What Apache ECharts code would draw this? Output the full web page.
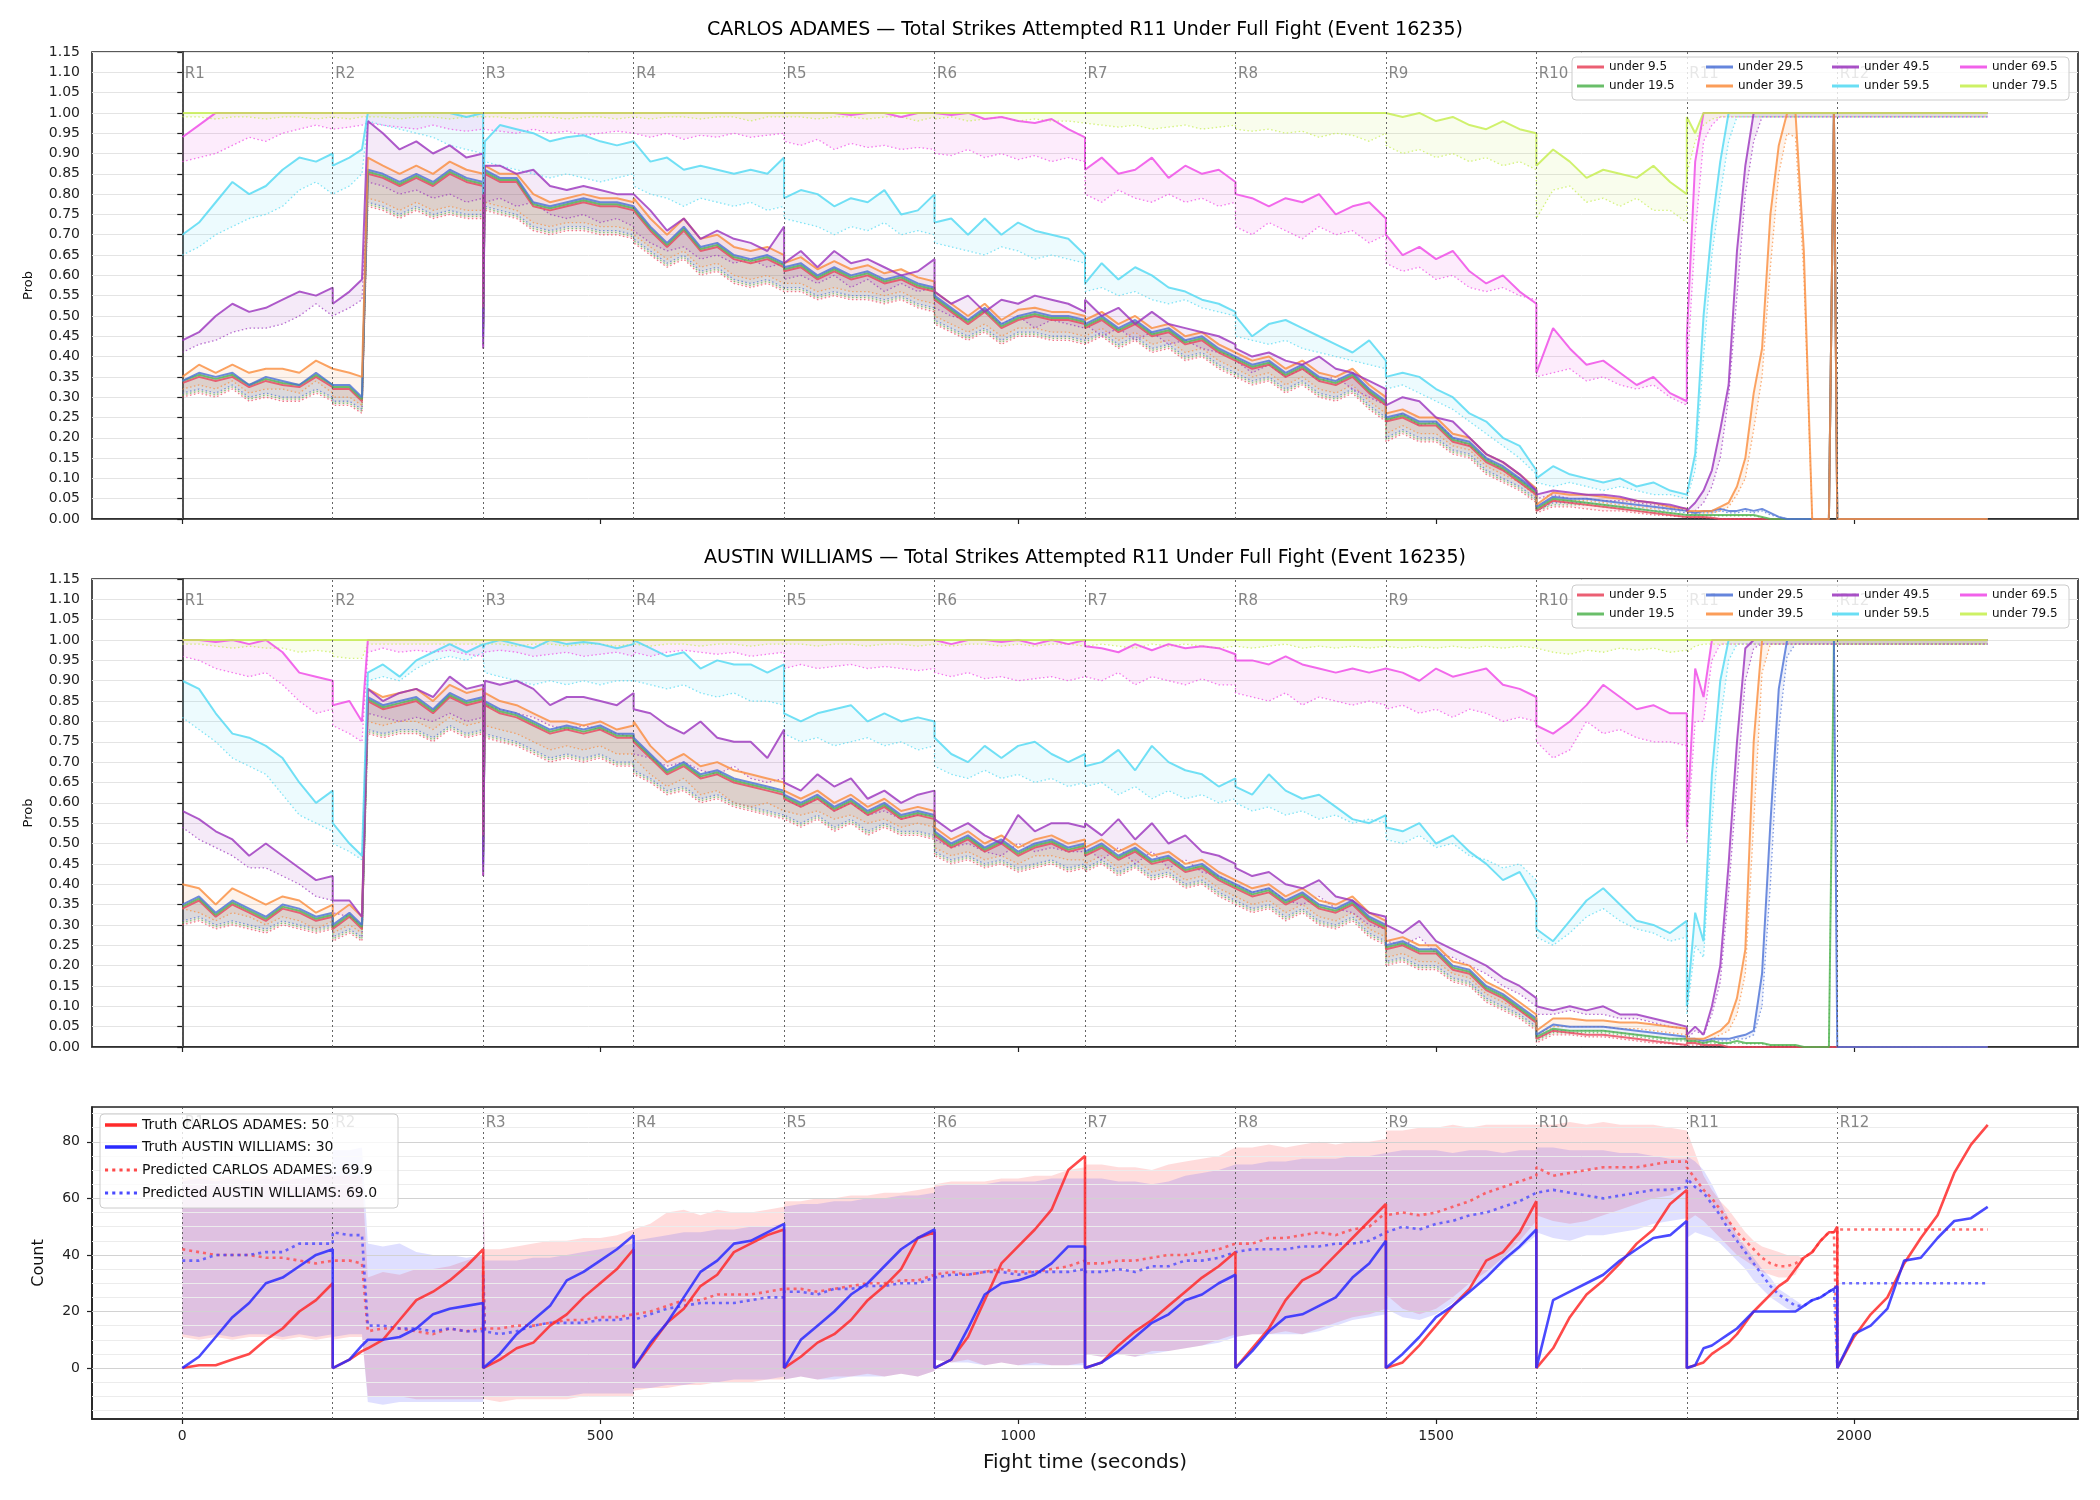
<!DOCTYPE html>
<html>
<head>
<meta charset="utf-8">
<script src="https://cdn.jsdelivr.net/npm/echarts@6/dist/echarts.min.js"></script>
<style>
  html, body { margin: 0; padding: 0; background: #fff; }
  #chart { width: 2100px; height: 1500px; }
</style>
</head>
<body>
<div id="chart"></div>
<script>
// sample times in seconds; round boundaries are listed twice so the resets are vertical
const T = [
  0,20,40,60,80,100,120,140,160,180,
  180,200,215,222,240,260,280,300,320,340,360,
  360,362,380,400,420,440,460,480,500,520,540,
  540,560,580,600,620,640,660,680,700,720,
  720,740,760,780,800,820,840,860,880,900,
  900,920,940,960,980,1000,1020,1040,1060,1080,
  1080,1100,1120,1140,1160,1180,1200,1220,1240,1260,
  1260,1280,1300,1320,1340,1360,1380,1400,1420,1440,
  1440,1460,1480,1500,1520,1540,1560,1580,1600,1620,
  1620,1640,1660,1680,1700,1720,1740,1760,1780,1800,
  1800,1810,1820,1830,1840,1850,1860,1870,1880,1890,1900,1910,1920,1930,1940,1950,1960,1970,1976,1980,
  1980,2000,2020,2040,2060,2080,2100,2120,2140,2160
];
const roundStarts = [0,180,360,540,720,900,1080,1260,1440,1620,1800,1980];
const roundNames = ['R1','R2','R3','R4','R5','R6','R7','R8','R9','R10','R11','R12'];
const thresholds = ['under 9.5','under 19.5','under 29.5','under 39.5','under 49.5','under 59.5','under 69.5','under 79.5'];
const lineColors = ['#e8435b','#4fb34f','#4a70d6','#fa8c3c','#9a32bd','#4fd8f2','#ef45e6','#c4ee4a'];

// ---------- CARLOS ADAMES: actual (solid) and predicted (dotted) ----------
const caU9 = [
  .335,.35,.34,.35,.325,.34,.33,.325,.35,.325,
  .32,.32,.29,.85,.84,.82,.84,.82,.85,.83,.82,
  .48,.85,.83,.83,.77,.76,.77,.78,.77,.77,.76,
  .76,.71,.67,.71,.66,.67,.64,.63,.64,.62,
  .61,.62,.59,.61,.59,.60,.58,.59,.57,.56,
  .54,.51,.48,.51,.47,.49,.50,.49,.49,.48,
  .47,.49,.46,.48,.45,.46,.43,.44,.41,.39,
  .39,.37,.38,.35,.37,.34,.33,.35,.31,.28,
  .24,.25,.23,.23,.19,.18,.14,.12,.09,.06,
  .02,.045,.04,.035,.03,.025,.02,.015,.01,.005,
  .005,.005,.005,.003,0,0,0,0,0,0,0,0,0,0,0,0,0,0,1,0,
  0,0,0,0,0,0,0,0,0,0];
const caU9p = [
  .30,.31,.30,.32,.29,.30,.29,.29,.31,.29,
  .28,.28,.26,.77,.76,.74,.76,.74,.75,.74,.74,
  .42,.76,.75,.74,.71,.70,.71,.71,.70,.70,.69,
  .68,.65,.62,.64,.60,.61,.58,.57,.58,.56,
  .56,.56,.54,.55,.54,.54,.53,.54,.52,.51,
  .48,.46,.44,.46,.43,.45,.45,.44,.44,.43,
  .43,.45,.42,.44,.41,.42,.39,.40,.37,.35,
  .35,.33,.34,.31,.33,.30,.29,.31,.27,.24,
  .19,.21,.19,.19,.16,.15,.11,.09,.07,.04,
  .015,.03,.03,.025,.02,.02,.015,.01,.008,.004,
  .003,.003,.003,.002,0,0,0,0,0,0,0,0,0,0,0,0,0,0,1,0,
  0,0,0,0,0,0,0,0,0,0];
const caU19 = [
  .34,.355,.345,.355,.33,.345,.335,.33,.355,.33,
  .325,.325,.295,.855,.845,.825,.845,.825,.855,.835,.825,
  .47,.855,.835,.835,.775,.765,.775,.785,.775,.775,.765,
  .765,.715,.675,.715,.665,.675,.645,.635,.645,.625,
  .615,.625,.595,.615,.595,.605,.585,.595,.575,.565,
  .545,.515,.485,.515,.475,.495,.505,.495,.495,.485,
  .475,.495,.465,.485,.455,.465,.435,.445,.415,.395,
  .395,.375,.385,.355,.375,.345,.335,.355,.315,.285,
  .245,.255,.235,.235,.195,.185,.145,.125,.095,.065,
  .025,.05,.045,.04,.035,.03,.025,.02,.015,.01,
  .01,.01,.01,.01,.01,.01,.01,.01,.01,.005,0,0,0,0,0,0,0,0,1,0,
  0,0,0,0,0,0,0,0,0,0];
const caU19p = [
  .305,.315,.305,.325,.295,.305,.295,.295,.315,.295,
  .285,.285,.265,.775,.765,.745,.765,.745,.755,.745,.745,
  .43,.765,.755,.745,.715,.705,.715,.715,.705,.705,.695,
  .685,.655,.625,.645,.605,.615,.585,.575,.585,.565,
  .565,.565,.545,.555,.545,.545,.535,.545,.525,.515,
  .485,.465,.445,.465,.435,.455,.455,.445,.445,.435,
  .435,.455,.425,.445,.415,.425,.395,.405,.375,.355,
  .355,.335,.345,.315,.335,.305,.295,.315,.275,.245,
  .195,.215,.195,.195,.165,.155,.115,.095,.075,.045,
  .02,.035,.035,.035,.03,.025,.02,.015,.015,.01,
  .008,.008,.008,.008,.008,.008,.008,.008,.008,.004,0,0,0,0,0,0,0,0,1,0,
  0,0,0,0,0,0,0,0,0,0];
const caU29 = [
  .34,.36,.35,.36,.33,.35,.34,.33,.36,.33,
  .33,.33,.30,.86,.85,.83,.85,.83,.86,.84,.83,
  .45,.86,.84,.84,.78,.77,.78,.79,.78,.78,.77,
  .77,.72,.68,.72,.67,.68,.65,.64,.65,.63,
  .62,.63,.60,.62,.60,.61,.59,.60,.58,.57,
  .55,.52,.49,.52,.48,.50,.51,.50,.50,.49,
  .48,.50,.47,.49,.46,.47,.44,.45,.42,.40,
  .40,.38,.39,.36,.38,.35,.34,.36,.32,.29,
  .25,.26,.24,.24,.20,.19,.15,.13,.10,.07,
  .03,.055,.05,.05,.045,.04,.035,.03,.025,.02,
  .02,.015,.02,.02,.025,.02,.02,.025,.02,.025,.015,.005,0,0,0,0,0,0,1,0,
  0,0,0,0,0,0,0,0,0,0];
const caU29p = [
  .31,.32,.31,.33,.30,.31,.30,.30,.32,.30,
  .29,.29,.27,.78,.77,.75,.77,.75,.76,.75,.75,
  .43,.77,.76,.75,.72,.71,.72,.72,.71,.71,.70,
  .69,.66,.63,.65,.61,.62,.59,.58,.59,.57,
  .57,.57,.55,.56,.55,.55,.54,.55,.53,.52,
  .49,.47,.45,.47,.44,.46,.46,.45,.45,.44,
  .44,.46,.43,.45,.42,.43,.40,.41,.38,.36,
  .36,.34,.35,.32,.34,.31,.30,.32,.28,.25,
  .20,.22,.20,.20,.17,.16,.12,.10,.08,.05,
  .02,.04,.04,.04,.035,.03,.025,.02,.02,.015,
  .015,.01,.015,.015,.02,.015,.015,.02,.015,.02,.01,.005,0,0,0,0,0,0,1,0,
  0,0,0,0,0,0,0,0,0,0];
const caU39 = [
  .35,.38,.36,.38,.36,.37,.37,.36,.39,.37,
  .37,.36,.35,.89,.87,.85,.87,.85,.88,.86,.85,
  .52,.87,.85,.85,.80,.78,.79,.80,.79,.79,.78,
  .79,.74,.70,.74,.69,.70,.67,.66,.67,.65,
  .63,.645,.615,.635,.615,.625,.605,.615,.595,.585,
  .56,.53,.50,.53,.49,.515,.52,.51,.51,.50,
  .49,.51,.48,.50,.47,.48,.45,.46,.43,.41,
  .41,.39,.40,.37,.39,.36,.35,.37,.33,.30,
  .26,.27,.25,.25,.21,.20,.16,.14,.11,.075,
  .035,.065,.06,.06,.055,.05,.045,.04,.03,.025,
  .02,.02,.02,.02,.03,.04,.08,.15,.31,.42,.75,.92,1,1,.66,0,0,0,1,0,
  0,0,0,0,0,0,0,0,0,0];
const caU39p = [
  .32,.33,.32,.34,.31,.32,.32,.31,.34,.31,
  .30,.30,.28,.79,.78,.76,.78,.76,.77,.76,.76,
  .47,.78,.77,.76,.73,.72,.73,.73,.72,.72,.71,
  .70,.67,.64,.66,.62,.63,.60,.59,.60,.58,
  .58,.58,.56,.57,.56,.56,.55,.56,.54,.53,
  .50,.48,.46,.48,.45,.47,.47,.46,.46,.45,
  .45,.47,.44,.46,.43,.44,.41,.42,.39,.37,
  .37,.35,.36,.33,.35,.32,.31,.33,.29,.26,
  .21,.23,.21,.21,.18,.17,.13,.11,.09,.055,
  .025,.045,.045,.045,.04,.035,.03,.025,.025,.02,
  .015,.015,.015,.015,.02,.03,.06,.10,.22,.35,.62,.85,.95,.94,.60,0,0,0,1,0,
  0,0,0,0,0,0,0,0,0,0];
const caU49 = [
  .44,.46,.50,.53,.51,.52,.54,.56,.55,.57,
  .53,.56,.59,.98,.95,.91,.93,.90,.92,.89,.90,
  .42,.87,.87,.85,.86,.82,.81,.82,.81,.80,.80,
  .80,.76,.71,.74,.69,.71,.69,.68,.66,.72,
  .63,.66,.62,.66,.63,.64,.62,.60,.61,.64,
  .56,.53,.55,.51,.54,.53,.55,.54,.53,.51,
  .54,.50,.52,.48,.51,.48,.47,.46,.45,.43,
  .42,.40,.41,.39,.38,.40,.37,.36,.34,.32,
  .28,.30,.29,.25,.24,.20,.16,.14,.11,.07,
  .06,.07,.065,.06,.06,.055,.045,.04,.035,.025,
  .02,.04,.07,.12,.22,.33,.66,.87,1,1,1,1,1,1,1,1,1,1,1,1,
  1,1,1,1,1,1,1,1,1,1];
const caU49p = [
  .41,.43,.44,.46,.47,.47,.48,.50,.53,.50,
  .50,.52,.54,.83,.82,.80,.81,.79,.80,.78,.79,
  .45,.78,.79,.77,.78,.75,.74,.75,.73,.74,.72,
  .71,.68,.66,.67,.64,.65,.63,.64,.62,.63,
  .59,.60,.58,.60,.57,.59,.56,.58,.56,.57,
  .52,.50,.49,.51,.48,.50,.47,.49,.48,.47,
  .48,.45,.47,.44,.46,.43,.44,.42,.41,.40,
  .39,.36,.38,.35,.37,.34,.35,.32,.30,.28,
  .24,.26,.23,.24,.20,.18,.15,.12,.10,.06,
  .05,.06,.05,.05,.045,.045,.04,.035,.03,.02,
  .015,.02,.04,.08,.15,.30,.55,.80,.93,.99,.99,.99,.99,.99,.99,.99,.99,.99,.99,.99,
  .99,.99,.99,.99,.99,.99,.99,.99,.99,.99];
const caU59 = [
  .70,.73,.78,.83,.80,.82,.86,.89,.88,.90,
  .87,.89,.91,1,1,1,1,1,1,.99,1,
  .80,.93,.97,.96,.95,.93,.94,.945,.93,.92,.93,
  .93,.88,.89,.86,.87,.86,.85,.86,.85,.89,
  .79,.81,.80,.77,.79,.78,.81,.75,.76,.80,
  .73,.74,.70,.74,.70,.73,.71,.70,.69,.65,
  .58,.63,.59,.62,.60,.57,.56,.54,.53,.51,
  .50,.45,.48,.49,.47,.45,.43,.41,.44,.39,
  .35,.36,.35,.32,.30,.26,.24,.20,.18,.12,
  .10,.13,.11,.10,.09,.10,.08,.09,.07,.06,
  .06,.16,.50,.72,.88,1,1,1,1,1,1,1,1,1,1,1,1,1,1,1,
  1,1,1,1,1,1,1,1,1,1];
const caU59p = [
  .65,.67,.70,.72,.74,.75,.77,.81,.83,.80,
  .80,.82,.85,.98,.97,.96,.95,.94,.92,.91,.90,
  .78,.88,.87,.86,.85,.84,.85,.84,.83,.84,.85,
  .82,.80,.79,.77,.79,.78,.77,.78,.76,.77,
  .74,.73,.72,.70,.72,.71,.73,.70,.71,.70,
  .68,.67,.66,.65,.67,.66,.64,.65,.64,.63,
  .56,.57,.55,.56,.54,.53,.54,.52,.51,.50,
  .45,.44,.43,.44,.42,.41,.40,.39,.38,.37,
  .32,.33,.31,.29,.27,.24,.21,.18,.15,.11,
  .09,.08,.09,.08,.07,.08,.07,.06,.06,.05,
  .05,.12,.40,.65,.80,.93,.99,.99,.99,.99,.99,.99,.99,.99,.99,.99,.99,.99,.99,.99,
  .99,.99,.99,.99,.99,.99,.99,.99,.99,.99];
const caU69 = [
  .94,.97,1,1,1,1,1,1,1,1,
  1,1,1,1,1,1,1,1,1,1,1,
  1,1,1,1,1,1,1,1,1,1,1,
  1,1,1,1,1,1,1,1,1,1,
  1,1,1,1,.995,1,1,.99,1,1,
  1,.995,1,.985,.99,.98,.975,.985,.96,.94,
  .86,.89,.85,.86,.89,.84,.87,.85,.86,.83,
  .80,.79,.77,.79,.78,.80,.75,.77,.78,.74,
  .70,.65,.67,.64,.66,.61,.58,.60,.56,.53,
  .36,.47,.42,.38,.39,.36,.33,.35,.31,.29,
  .45,.88,1,1,1,1,1,1,1,1,1,1,1,1,1,1,1,1,1,1,
  1,1,1,1,1,1,1,1,1,1];
const caU69p = [
  .88,.89,.90,.92,.94,.93,.95,.96,.97,.96,
  .96,.965,.97,.975,.97,.965,.96,.97,.96,.955,.96,
  .96,.96,.955,.95,.96,.95,.955,.945,.95,.955,.95,
  .95,.94,.95,.935,.945,.94,.95,.94,.945,.95,
  .93,.92,.935,.91,.925,.915,.92,.91,.915,.91,
  .90,.895,.91,.89,.90,.885,.895,.88,.89,.88,
  .80,.78,.81,.79,.78,.80,.78,.79,.77,.78,
  .72,.70,.73,.71,.69,.72,.70,.71,.68,.70,
  .63,.61,.62,.59,.60,.57,.56,.57,.55,.54,
  .35,.36,.37,.34,.35,.33,.32,.33,.30,.28,
  .35,.70,.93,.97,.99,.99,.99,.99,.99,.99,.99,.99,.99,.99,.99,.99,.99,.99,.99,.99,
  .99,.99,.99,.99,.99,.99,.99,.99,.99,.99];
const caU79 = [
  1,1,1,1,1,1,1,1,1,1,
  1,1,1,1,1,1,1,1,1,1,1,
  1,1,1,1,1,1,1,1,1,1,1,
  1,1,1,1,1,1,1,1,1,1,
  1,1,1,1,1,1,1,1,1,1,
  1,1,1,1,1,1,1,1,1,1,
  1,1,1,1,1,1,1,1,1,1,
  1,1,1,1,1,1,1,1,1,1,
  1,.99,1,.98,.99,.97,.96,.98,.96,.95,
  .87,.91,.88,.84,.86,.85,.84,.87,.83,.80,
  .99,.95,1,1,1,1,1,1,1,1,1,1,1,1,1,1,1,1,1,1,
  1,1,1,1,1,1,1,1,1,1];
const caU79p = [
  .99,.99,.985,.99,.99,.985,.99,.99,.985,.99,
  .99,.985,.99,.99,.99,.985,.99,.99,.985,.99,.99,
  .99,.99,.99,.985,.99,.99,.985,.99,.99,.985,.99,
  .99,.985,.99,.99,.985,.99,.99,.98,.99,.99,
  .99,.99,.985,.99,.99,.985,.99,.99,.98,.99,
  .985,.99,.98,.985,.99,.98,.985,.98,.98,.975,
  .975,.97,.965,.97,.96,.965,.97,.96,.965,.97,
  .96,.955,.96,.95,.955,.94,.95,.945,.93,.95,
  .92,.90,.91,.89,.90,.88,.89,.87,.88,.86,
  .74,.81,.82,.78,.79,.77,.79,.76,.76,.73,
  .85,.93,.97,.985,.99,.99,.99,.99,.99,.99,.99,.99,.99,.99,.99,.99,.99,.99,.99,.99,
  .99,.99,.99,.99,.99,.99,.99,.99,.99,.99];

// ---------- AUSTIN WILLIAMS: actual (solid) and predicted (dotted) ----------
const awU9 = [
  .34,.36,.32,.35,.33,.31,.34,.33,.31,.32,
  .29,.32,.29,.85,.83,.84,.85,.82,.86,.84,.85,
  .48,.84,.82,.81,.79,.77,.78,.77,.78,.76,.76,
  .75,.71,.67,.69,.66,.67,.65,.64,.63,.62,
  .61,.59,.61,.58,.60,.57,.59,.56,.57,.56,
  .52,.49,.51,.48,.50,.47,.49,.50,.48,.49,
  .47,.49,.46,.48,.45,.46,.43,.44,.41,.39,
  .39,.37,.38,.35,.37,.34,.33,.35,.31,.29,
  .24,.25,.23,.23,.19,.18,.14,.12,.09,.06,
  .02,.04,.035,.03,.03,.025,.02,.015,.01,.005,
  .01,.01,.005,.005,.005,0,0,0,0,0,0,0,0,0,0,0,0,0,0,0,
  0,0,0,0,0,0,0,0,0,0];
const awU9p = [
  .30,.31,.29,.30,.29,.28,.30,.29,.28,.29,
  .26,.28,.26,.77,.76,.77,.77,.75,.78,.76,.77,
  .42,.76,.75,.74,.72,.70,.71,.70,.71,.69,.69,
  .67,.65,.62,.63,.60,.61,.59,.58,.57,.56,
  .56,.54,.56,.53,.55,.52,.54,.52,.52,.51,
  .47,.45,.46,.44,.45,.43,.44,.45,.43,.44,
  .43,.45,.42,.44,.41,.42,.39,.40,.37,.35,
  .35,.33,.34,.31,.33,.30,.29,.31,.27,.25,
  .20,.21,.19,.19,.16,.15,.11,.09,.07,.04,
  .01,.03,.03,.025,.025,.02,.015,.01,.008,.004,
  .005,.005,.003,.003,.003,0,0,0,0,0,0,0,0,0,0,0,0,0,0,0,
  0,0,0,0,0,0,0,0,0,0];
const awU19 = [
  .345,.365,.325,.355,.335,.315,.345,.335,.315,.325,
  .295,.325,.295,.855,.835,.845,.855,.825,.865,.845,.855,
  .47,.845,.825,.815,.795,.775,.785,.775,.785,.765,.765,
  .755,.715,.675,.695,.665,.675,.655,.645,.635,.625,
  .615,.595,.615,.585,.605,.575,.595,.565,.575,.565,
  .525,.495,.515,.485,.505,.475,.495,.505,.485,.495,
  .475,.495,.465,.485,.455,.465,.435,.445,.415,.395,
  .395,.375,.385,.355,.375,.345,.335,.355,.315,.295,
  .245,.255,.235,.235,.195,.185,.145,.125,.095,.065,
  .025,.045,.04,.04,.04,.035,.03,.025,.02,.02,
  .015,.015,.01,.015,.01,.01,.015,.01,.01,.01,.005,.005,.005,.005,0,0,0,0,1,1,
  1,1,1,1,1,1,1,1,1,1];
const awU19p = [
  .305,.315,.295,.305,.295,.285,.305,.295,.285,.295,
  .265,.285,.265,.775,.765,.775,.775,.755,.785,.765,.775,
  .43,.765,.755,.745,.725,.705,.715,.705,.715,.695,.695,
  .675,.655,.625,.635,.605,.615,.595,.585,.575,.565,
  .565,.545,.565,.535,.555,.525,.545,.525,.525,.515,
  .475,.455,.465,.445,.455,.435,.445,.455,.435,.445,
  .435,.455,.425,.445,.415,.425,.395,.405,.375,.355,
  .355,.335,.345,.315,.335,.305,.295,.315,.275,.255,
  .205,.215,.195,.195,.165,.155,.115,.095,.075,.045,
  .015,.035,.035,.035,.035,.03,.025,.02,.015,.015,
  .01,.01,.008,.01,.008,.008,.01,.008,.008,.008,.004,.004,.004,.004,0,0,0,0,.99,.99,
  .99,.99,.99,.99,.99,.99,.99,.99,.99,.99];
const awU29 = [
  .35,.37,.33,.36,.34,.32,.35,.34,.32,.33,
  .30,.33,.30,.86,.84,.85,.86,.83,.87,.85,.86,
  .45,.85,.83,.82,.80,.78,.79,.78,.79,.77,.77,
  .76,.72,.68,.70,.67,.68,.66,.65,.64,.63,
  .62,.60,.62,.59,.61,.58,.60,.57,.58,.57,
  .53,.50,.52,.49,.51,.48,.50,.51,.49,.50,
  .48,.50,.47,.49,.46,.47,.44,.45,.42,.40,
  .40,.38,.39,.36,.38,.35,.34,.36,.32,.30,
  .25,.26,.24,.24,.20,.19,.15,.13,.10,.07,
  .03,.055,.05,.05,.05,.045,.04,.035,.03,.025,
  .02,.02,.015,.02,.02,.02,.025,.03,.04,.18,.55,.88,1,1,1,1,1,1,1,0,
  0,0,0,0,0,0,0,0,0,0];
const awU29p = [
  .31,.32,.30,.31,.30,.29,.31,.30,.29,.30,
  .27,.29,.27,.78,.77,.78,.78,.76,.79,.77,.78,
  .43,.77,.76,.75,.73,.71,.72,.71,.72,.70,.70,
  .68,.66,.63,.64,.61,.62,.60,.59,.58,.57,
  .57,.55,.57,.54,.56,.53,.55,.53,.53,.52,
  .48,.46,.47,.45,.46,.44,.45,.46,.44,.45,
  .44,.46,.43,.45,.42,.43,.40,.41,.38,.36,
  .36,.34,.35,.32,.34,.31,.30,.32,.28,.26,
  .21,.22,.20,.20,.17,.16,.12,.10,.08,.05,
  .02,.04,.04,.04,.04,.035,.03,.025,.02,.02,
  .015,.015,.01,.015,.015,.015,.02,.02,.03,.10,.40,.78,.96,.99,.99,.99,.99,.99,.99,0,
  0,0,0,0,0,0,0,0,0,0];
const awU39 = [
  .40,.39,.35,.39,.37,.35,.37,.36,.33,.35,
  .32,.35,.32,.88,.86,.87,.88,.85,.89,.87,.88,
  .52,.87,.85,.84,.82,.80,.80,.79,.80,.78,.79,
  .80,.74,.70,.72,.69,.70,.68,.67,.66,.65,
  .63,.61,.63,.60,.62,.59,.61,.58,.59,.58,
  .54,.51,.53,.50,.52,.49,.51,.52,.50,.51,
  .49,.51,.48,.50,.47,.48,.45,.46,.43,.41,
  .41,.39,.40,.37,.39,.36,.35,.37,.33,.31,
  .26,.27,.25,.25,.21,.20,.16,.14,.11,.08,
  .04,.07,.07,.065,.065,.06,.06,.055,.05,.045,
  .02,.02,.02,.03,.04,.06,.12,.24,.75,1,1,1,1,1,1,1,1,1,1,1,
  1,1,1,1,1,1,1,1,1,1];
const awU39p = [
  .34,.33,.31,.33,.32,.30,.32,.31,.29,.31,
  .28,.30,.28,.80,.79,.80,.80,.78,.81,.79,.80,
  .47,.79,.78,.77,.75,.73,.74,.73,.74,.72,.72,
  .71,.67,.64,.66,.62,.63,.60,.59,.60,.58,
  .58,.57,.58,.56,.57,.55,.56,.54,.55,.54,
  .49,.47,.48,.46,.47,.45,.47,.47,.46,.46,
  .45,.47,.44,.46,.43,.44,.41,.42,.39,.37,
  .37,.35,.36,.33,.35,.32,.31,.33,.29,.27,
  .22,.23,.21,.21,.18,.17,.13,.11,.09,.06,
  .03,.05,.05,.05,.05,.045,.045,.04,.035,.03,
  .015,.015,.015,.02,.03,.04,.08,.18,.55,.92,.99,.99,.99,.99,.99,.99,.99,.99,.99,.99,
  .99,.99,.99,.99,.99,.99,.99,.99,.99,.99];
const awU49 = [
  .58,.56,.53,.51,.47,.50,.47,.44,.41,.42,
  .36,.36,.32,.88,.85,.87,.88,.86,.91,.88,.89,
  .42,.90,.89,.90,.88,.84,.86,.86,.85,.84,.87,
  .83,.82,.79,.77,.80,.76,.75,.75,.71,.78,
  .65,.63,.67,.64,.66,.61,.63,.60,.62,.63,
  .56,.53,.55,.52,.50,.57,.53,.55,.55,.54,
  .55,.52,.56,.51,.55,.50,.52,.48,.47,.45,
  .44,.42,.43,.40,.39,.41,.37,.36,.33,.32,
  .30,.28,.31,.26,.24,.22,.20,.17,.15,.12,
  .10,.09,.10,.09,.10,.08,.08,.07,.06,.05,
  .03,.05,.03,.10,.20,.45,.75,.98,1,1,1,1,1,1,1,1,1,1,1,1,
  1,1,1,1,1,1,1,1,1,1];
const awU49p = [
  .54,.51,.49,.47,.44,.44,.42,.40,.37,.36,
  .33,.32,.30,.82,.81,.80,.81,.80,.82,.80,.81,
  .45,.84,.83,.82,.81,.79,.78,.79,.78,.77,.76,
  .72,.71,.69,.70,.68,.67,.69,.66,.65,.66,
  .61,.59,.61,.58,.60,.57,.58,.56,.57,.57,
  .51,.49,.50,.48,.47,.50,.48,.49,.48,.48,
  .49,.46,.49,.45,.48,.44,.46,.43,.42,.40,
  .40,.38,.39,.36,.35,.37,.34,.33,.30,.29,
  .26,.25,.27,.23,.22,.20,.18,.15,.13,.10,
  .08,.08,.09,.08,.08,.07,.07,.06,.05,.045,
  .02,.04,.03,.08,.16,.38,.65,.90,.98,.99,.99,.99,.99,.99,.99,.99,.99,.99,.99,.99,
  .99,.99,.99,.99,.99,.99,.99,.99,.99,.99];
const awU59 = [
  .90,.88,.82,.77,.76,.74,.71,.65,.60,.63,
  .55,.50,.47,.92,.94,.91,.95,.97,.99,.97,.99,
  .98,.99,1,.99,.98,1,.99,.995,.99,.98,.99,
  1,.98,.96,.97,.93,.95,.94,.94,.92,.94,
  .82,.80,.82,.83,.84,.80,.82,.80,.81,.80,
  .76,.72,.70,.74,.71,.74,.75,.72,.70,.72,
  .69,.70,.73,.68,.74,.70,.68,.67,.64,.66,
  .64,.62,.67,.63,.61,.62,.59,.56,.55,.57,
  .54,.53,.55,.50,.52,.48,.45,.41,.43,.36,
  .29,.26,.31,.36,.39,.35,.31,.30,.28,.31,
  .10,.33,.26,.67,.90,1,1,1,1,1,1,1,1,1,1,1,1,1,1,1,
  1,1,1,1,1,1,1,1,1,1];
const awU59p = [
  .81,.78,.75,.71,.69,.67,.62,.57,.55,.53,
  .50,.48,.46,.90,.91,.90,.93,.95,.96,.95,.97,
  .96,.92,.91,.90,.89,.90,.89,.90,.89,.90,.90,
  .90,.89,.88,.89,.87,.86,.87,.85,.85,.84,
  .77,.75,.76,.74,.75,.76,.74,.75,.73,.74,
  .69,.67,.66,.68,.66,.67,.65,.66,.64,.65,
  .64,.65,.62,.64,.61,.63,.61,.62,.60,.61,
  .60,.58,.59,.57,.58,.56,.57,.55,.56,.55,
  .51,.50,.52,.49,.50,.47,.46,.44,.45,.41,
  .27,.25,.28,.32,.34,.31,.29,.28,.26,.27,
  .08,.25,.22,.55,.80,.95,.99,.99,.99,.99,.99,.99,.99,.99,.99,.99,.99,.99,.99,.99,
  .99,.99,.99,.99,.99,.99,.99,.99,.99,.99];
const awU69 = [
  1,1,.995,1,.99,1,.97,.92,.91,.90,
  .84,.85,.80,1,1,1,1,1,1,1,1,
  1,1,1,1,1,1,1,1,1,1,1,
  1,1,1,1,1,1,1,1,1,1,
  1,1,1,1,1,1,1,1,1,1,
  1,.99,1,1,.995,1,.99,1,.99,1,
  .985,.98,.97,.99,.975,.99,.98,.985,.98,.965,
  .95,.95,.94,.96,.94,.93,.92,.93,.92,.93,
  .93,.92,.90,.93,.91,.92,.93,.89,.88,.86,
  .79,.77,.80,.84,.89,.86,.83,.84,.82,.82,
  .54,.93,.86,1,1,1,1,1,1,1,1,1,1,1,1,1,1,1,1,1,
  1,1,1,1,1,1,1,1,1,1];
const awU69p = [
  .96,.95,.93,.92,.91,.92,.89,.85,.82,.83,
  .79,.77,.75,.97,.98,.97,.975,.97,.975,.965,.96,
  .97,.97,.975,.97,.96,.965,.97,.96,.965,.97,.96,
  .97,.96,.97,.975,.97,.965,.97,.96,.965,.97,
  .93,.94,.93,.935,.94,.93,.935,.93,.925,.93,
  .92,.91,.92,.905,.91,.90,.905,.91,.90,.91,
  .91,.90,.92,.89,.91,.90,.89,.905,.89,.89,
  .87,.86,.85,.87,.84,.86,.85,.84,.85,.84,
  .83,.84,.82,.83,.81,.83,.82,.80,.81,.80,
  .75,.71,.73,.80,.77,.78,.76,.75,.75,.74,
  .50,.80,.80,.95,.99,.99,.99,.99,.99,.99,.99,.99,.99,.99,.99,.99,.99,.99,.99,.99,
  .99,.99,.99,.99,.99,.99,.99,.99,.99,.99];
const awU79 = [
  1,1,1,1,1,1,1,1,1,1,
  1,1,1,1,1,1,1,1,1,1,1,
  1,1,1,1,1,1,1,1,1,1,1,
  1,1,1,1,1,1,1,1,1,1,
  1,1,1,1,1,1,1,1,1,1,
  1,1,1,1,1,1,1,1,1,1,
  1,1,1,1,1,1,1,1,1,1,
  1,1,1,1,1,1,1,1,1,1,
  1,1,1,1,1,1,1,1,1,1,
  1,1,1,1,1,1,1,1,1,1,
  1,1,1,1,1,1,1,1,1,1,1,1,1,1,1,1,1,1,1,1,
  1,1,1,1,1,1,1,1,1,1];
const awU79p = [
  .99,.99,.985,.98,.985,.98,.98,.97,.975,.97,
  .96,.955,.955,.99,.99,.99,.99,.99,.99,.99,.99,
  .99,.99,.99,.985,.99,.99,.985,.99,.99,.985,.99,
  .99,.985,.99,.99,.985,.99,.99,.985,.99,.99,
  .99,.99,.985,.99,.99,.985,.99,.99,.985,.99,
  .99,.985,.99,.99,.985,.99,.985,.99,.99,.985,
  .985,.99,.985,.98,.99,.985,.99,.985,.98,.985,
  .985,.98,.985,.99,.98,.985,.98,.985,.98,.985,
  .985,.98,.985,.98,.985,.98,.985,.98,.985,.98,
  .98,.97,.965,.975,.97,.98,.975,.98,.97,.975,
  .97,.985,.99,.99,.99,.99,.99,.99,.99,.99,.99,.99,.99,.99,.99,.99,.99,.99,.99,.99,
  .99,.99,.99,.99,.99,.99,.99,.99,.99,.99];

// ---------- per-round strike counts ----------
const truthCA = [
  0,1,1,3,5,10,14,20,24,30,
  0,3,6,7,10,17,24,27,31,36,42,
  0,0,3,7,9,15,19,25,30,35,42,
  0,8,16,21,29,33,41,44,47,49,
  0,4,9,12,17,24,29,35,46,48,
  0,3,11,24,37,43,49,56,70,75,
  0,2,8,13,17,22,27,32,36,41,
  0,7,14,24,31,34,40,46,52,58,
  0,2,8,15,22,28,38,41,48,59,
  0,7,18,26,31,37,44,49,58,63,
  0,1,2,5,7,9,12,16,20,23,26,29,31,35,39,41,45,48,48,50,
  0,11,19,25,37,46,54,69,79,86];
const truthAW = [
  0,4,11,18,23,30,32,36,40,42,
  0,3,8,10,10,11,14,19,21,22,23,
  0,0,5,12,17,22,31,34,38,42,47,
  0,9,16,25,34,38,44,45,48,51,
  0,10,15,20,26,30,36,42,46,49,
  0,3,14,26,30,31,33,37,43,43,
  0,2,6,11,16,19,24,26,30,33,
  0,6,13,18,19,22,25,32,37,45,
  0,5,11,18,22,27,32,38,43,49,
  0,24,27,30,33,38,42,46,47,52,
  0,1,7,8,10,12,14,17,20,20,20,20,20,20,22,24,25,27,28,29,
  0,12,15,21,38,39,46,52,53,57];
const predCA = [
  42,41,40,40,40,39,39,38,37,38,
  38,38,37,13,14,14,13,12,14,13,14,
  36,14,14,15,15,16,17,17,18,18,19,
  19,20,22,24,24,26,26,26,27,28,
  28,28,27,28,29,30,30,31,31,33,
  33,34,33,34,35,34,34,35,36,38,
  37,37,38,38,39,40,40,41,42,44,
  44,44,46,46,47,48,47,49,50,55,
  54,55,54,55,57,59,62,64,66,68,
  71,68,69,70,71,71,71,72,73,73,
  71,67,63,60,56,52,48,45,42,39,37,36,36,37,39,41,45,48,48,0,
  49,49,49,49,49,49,49,49,49,49];
const predAW = [
  38,38,40,40,40,41,41,44,44,44,
  48,47,47,15,15,14,14,13,14,13,13,
  33,13,12,13,15,16,16,16,17,17,18,
  17,19,21,22,23,23,23,24,25,25,
  27,27,26,28,28,29,29,30,30,32,
  32,33,33,34,34,33,34,34,34,35,
  34,34,35,34,36,36,38,38,39,41,
  41,42,42,42,43,43,44,44,45,48,
  48,50,49,51,52,54,55,57,59,62,
  62,63,62,61,60,61,62,63,63,64,
  67,64,62,58,54,49,45,41,37,33,29,26,24,22,22,24,25,27,28,0,
  30,30,30,30,30,30,30,30,30,30];
const hiCA = [
  67,68,67,68,67,68,67,67,68,68,
  68,68,68,32,34,33,35,35,36,38,40,
  65,42,42,43,44,45,45,46,46,47,49,
  49,51,55,56,54,56,55,55,56,57,
  59,59,60,60,61,61,62,62,63,64,
  65,66,66,66,67,67,68,68,70,71,
  72,72,71,71,70,72,73,74,75,78,
  78,78,79,78,79,80,79,80,80,81,
  84,84,85,85,86,85,86,86,86,86,
  86,86,87,86,87,86,86,86,85,84,
  84,76,68,63,59,56,52,48,45,43,42,41,40,40,39,41,45,48,48,0,
  49,49,49,49,49,49,49,49,49,49];
const loCA = [
  11,10,11,10,11,11,10,11,10,11,
  10,11,11,-10,-10,-10,-11,-11,-11,-11,-11,
  -11,-11,-12,-11,-11,-11,-11,-10,-10,-10,-10,
  -8,-7,-7,-6,-6,-5,-5,-5,-4,-4,
  -4,-3,-4,-3,-3,-2,-3,-2,-3,-1,
  3,2,3,1,2,1,2,1,1,2,
  5,4,5,4,6,6,7,8,10,12,
  11,12,12,13,12,14,16,18,19,21,
  26,21,19,21,25,30,34,39,45,52,
  54,52,51,52,54,56,58,60,61,64,
  52,54,52,49,46,43,40,38,36,34,33,32,32,33,39,41,45,48,48,0,
  49,49,49,49,49,49,49,49,49,49];
const hiAW = [
  66,67,66,67,66,67,66,67,68,70,
  77,77,78,44,43,44,41,40,40,39,40,
  65,38,38,38,39,39,40,41,42,43,44,
  45,46,47,48,48,49,49,50,50,51,
  57,58,58,59,59,60,60,61,61,62,
  64,65,65,65,66,66,66,67,67,67,
  67,67,66,66,65,66,68,69,70,72,
  72,72,73,73,74,74,74,75,75,76,
  76,77,77,77,76,77,77,76,77,77,
  78,78,77,77,77,76,76,75,74,74,
  75,73,70,65,59,53,47,43,39,35,32,28,26,24,22,24,25,27,28,0,
  30,30,30,30,30,30,30,30,30,30];
const loAW = [
  12,11,12,11,12,12,11,12,11,12,
  11,12,12,-12,-13,-12,-12,-12,-12,-12,-12,
  -10,-10,-10,-10,-10,-10,-10,-9,-9,-9,-9,
  -7,-7,-6,-6,-5,-5,-4,-4,-4,-3,
  -4,-3,-4,-4,-3,-3,-3,-2,-3,-1,
  3,2,2,1,2,1,1,1,1,1,
  5,4,5,4,5,6,7,8,9,11,
  11,12,12,12,12,13,15,17,18,19,
  21,18,17,19,23,28,32,37,42,47,
  48,46,45,47,47,48,49,51,52,53,
  46,48,47,46,44,41,38,35,31,28,25,23,21,20,22,24,25,27,28,0,
  30,30,30,30,30,30,30,30,30,30];

const FONT = 'DejaVu Sans';
const INK = '#222';
const xTicks = [0, 500, 1000, 1500, 2000];
const countTicks = [0, 20, 40, 60, 80];
const countGrid = [-15,-10,-5,0,5,10,15,20,25,30,35,40,45,50,55,60,65,70,75,80,85,90];
const DOTS = 'path://M0,0h3v3h-3z M7,0h3v3h-3z M14,0h3v3h-3z M21,0h3v3h-3z M28,0h3v3h-3z';

function rgba(hex, a) {
  const n = parseInt(hex.slice(1), 16);
  return 'rgba(' + (n >> 16) + ',' + ((n >> 8) & 255) + ',' + (n & 255) + ',' + a + ')';
}
function pts(ys) { return T.map((t, i) => [t, ys[i]]); }

// filled region between two curves, drawn through the axis scales
function band(gi, upper, lower, fill, z) {
  return {
    type: 'custom', xAxisIndex: gi, yAxisIndex: gi, silent: true, z: z,
    data: [[0, 0]],
    renderItem: function (params, api) {
      const poly = [];
      for (let i = 0; i < T.length; i++) poly.push(api.coord([T[i], upper[i]]));
      for (let i = T.length - 1; i >= 0; i--) poly.push(api.coord([T[i], lower[i]]));
      return { type: 'polygon', shape: { points: poly }, style: { fill: fill } };
    }
  };
}

function roundMarks(gi, labelY, extraLines) {
  const lines = roundStarts.map(t => ({ xAxis: t }));
  return {
    type: 'scatter', xAxisIndex: gi, yAxisIndex: gi, silent: true, z: 6,
    data: roundStarts.map(t => [t, labelY]),
    symbolSize: 1, itemStyle: { color: 'rgba(0,0,0,0)' },
    label: {
      show: true, position: 'right', distance: 2,
      formatter: p => roundNames[p.dataIndex],
      color: '#666', fontSize: 15, fontFamily: FONT
    },
    markLine: {
      silent: true, symbol: ['none', 'none'], label: { show: false },
      lineStyle: { color: '#555', type: [2, 3], width: 1, opacity: 0.9 },
      data: lines.concat(extraLines || [])
    }
  };
}

function probSeries(gi, solids, preds) {
  const out = [];
  thresholds.forEach((name, k) => out.push(band(gi, solids[k], preds[k], rgba(lineColors[k], 0.1), 1)));
  thresholds.forEach((name, k) => out.push({
    type: 'line', name: name + ' (pred)', xAxisIndex: gi, yAxisIndex: gi, data: pts(preds[k]),
    symbol: 'none', silent: true, z: 2,
    lineStyle: { color: lineColors[k], width: 1.3, type: [1.5, 2.5], opacity: 0.7 }
  }));
  thresholds.forEach((name, k) => out.push({
    type: 'line', name: name, xAxisIndex: gi, yAxisIndex: gi, data: pts(solids[k]),
    symbol: 'none', silent: true, z: 3,
    itemStyle: { color: lineColors[k] },
    lineStyle: { color: lineColors[k], width: 2, opacity: 0.8 }
  }));
  out.push(roundMarks(gi, 1.095));
  return out;
}

const caSolid = [caU9, caU19, caU29, caU39, caU49, caU59, caU69, caU79];
const caPred = [caU9p, caU19p, caU29p, caU39p, caU49p, caU59p, caU69p, caU79p];
const awSolid = [awU9, awU19, awU29, awU39, awU49, awU59, awU69, awU79];
const awPred = [awU9p, awU19p, awU29p, awU39p, awU49p, awU59p, awU69p, awU79p];

const gridLines = countGrid.map(v => ({
  yAxis: v, lineStyle: { type: 'solid', width: 1, opacity: 1, color: v % 20 === 0 ? '#d2d2d2' : '#ececec' }
}));

const countSeries = [
  band(2, hiCA, loCA, 'rgba(255,40,40,0.16)', 1),
  band(2, hiAW, loAW, 'rgba(40,40,255,0.15)', 1),
  roundMarks(2, 86.7, gridLines),
  { type: 'line', name: 'Truth CARLOS ADAMES: 50', xAxisIndex: 2, yAxisIndex: 2, data: pts(truthCA),
    symbol: 'none', silent: true, z: 8, itemStyle: { color: '#ff2a2a' },
    lineStyle: { color: '#ff2a2a', width: 2.6, opacity: 0.85 } },
  { type: 'line', name: 'Truth AUSTIN WILLIAMS: 30', xAxisIndex: 2, yAxisIndex: 2, data: pts(truthAW),
    symbol: 'none', silent: true, z: 8, itemStyle: { color: '#2a2aff' },
    lineStyle: { color: '#2a2aff', width: 2.6, opacity: 0.85 } },
  { type: 'line', name: 'Predicted CARLOS ADAMES: 69.9', xAxisIndex: 2, yAxisIndex: 2, data: pts(predCA),
    symbol: 'none', silent: true, z: 7, itemStyle: { color: '#ff4a4a' },
    lineStyle: { color: '#ff4a4a', width: 2.6, type: [3, 4], opacity: 0.8 } },
  { type: 'line', name: 'Predicted AUSTIN WILLIAMS: 69.0', xAxisIndex: 2, yAxisIndex: 2, data: pts(predAW),
    symbol: 'none', silent: true, z: 7, itemStyle: { color: '#4a4aff' },
    lineStyle: { color: '#4a4aff', width: 2.6, type: [3, 4], opacity: 0.8 } }
];

const grids = [
  { left: 92, top: 52, width: 1986, height: 467 },
  { left: 92, top: 579, width: 1986, height: 468 },
  { left: 92, top: 1107, width: 1986, height: 312 }
].map(g => Object.assign(g, { show: true, borderColor: INK, borderWidth: 1.6, backgroundColor: 'transparent' }));

const xAxes = [0, 1, 2].map(gi => ({
  type: 'value', gridIndex: gi, min: -108, max: 2268,
  axisLine: { show: true, onZero: false, lineStyle: { color: INK, width: 1.6 } },
  axisTick: { show: true, customValues: xTicks, length: 5, lineStyle: { color: INK, width: 1.2 } },
  axisLabel: { show: gi === 2, customValues: xTicks, formatter: v => String(v),
    fontSize: 14, color: INK, margin: 10, fontFamily: FONT },
  splitLine: { show: false },
  name: gi === 2 ? 'Fight time (seconds)' : '',
  nameLocation: 'middle', nameGap: 34,
  nameTextStyle: { fontSize: 20, color: '#111', fontFamily: FONT }
}));

const probAxis = gi => ({
  type: 'value', gridIndex: gi, min: 0, max: 1.15, interval: 0.05,
  axisLine: { show: true, lineStyle: { color: INK, width: 1.6 } },
  axisTick: { show: true, length: 5, lineStyle: { color: INK, width: 1.2 } },
  axisLabel: { formatter: v => v.toFixed(2), fontSize: 14, color: INK, margin: 12, fontFamily: FONT },
  splitLine: { show: true, lineStyle: { color: '#e4e4e4', width: 1 } },
  name: 'Prob', nameLocation: 'middle', nameGap: 57,
  nameTextStyle: { fontSize: 13, color: '#111', fontFamily: FONT }
});
const yAxes = [probAxis(0), probAxis(1), {
  type: 'value', gridIndex: 2, min: -18, max: 92.3,
  axisLine: { show: true, onZero: false, lineStyle: { color: INK, width: 1.6 } },
  axisTick: { show: true, customValues: countTicks, length: 5, lineStyle: { color: INK, width: 1.2 } },
  axisLabel: { customValues: countTicks, fontSize: 14, color: INK, margin: 12, fontFamily: FONT },
  splitLine: { show: false },
  name: 'Count', nameLocation: 'middle', nameGap: 45,
  nameTextStyle: { fontSize: 16, color: '#111', fontFamily: FONT }
}];

// threshold legends: 4 columns x 2 rows, one legend per entry so the columns line up
const legendCols = [1577, 1706, 1832, 1960];
const legendRows = [[61, 80], [589, 608]];
const legends = [];
[0, 1].forEach(p => {
  thresholds.forEach((name, k) => {
    legends.push({
      data: [name], left: legendCols[Math.floor(k / 2)], top: legendRows[p][k % 2],
      padding: 0, icon: 'rect', itemWidth: 27, itemHeight: 3, selectedMode: false, z: 30,
      itemStyle: { opacity: 0.85 },
      textStyle: { fontSize: 12, color: '#111', fontFamily: FONT }
    });
  });
});
const countLegend = [
  ['Truth CARLOS ADAMES: 50', 'rect'],
  ['Truth AUSTIN WILLIAMS: 30', 'rect'],
  ['Predicted CARLOS ADAMES: 69.9', DOTS],
  ['Predicted AUSTIN WILLIAMS: 69.0', DOTS]
];
const countLegendRows = [1118, 1140, 1163, 1186];
countLegend.forEach(([name, icon], i) => {
  legends.push({
    data: [name], left: 105, top: countLegendRows[i], padding: 0,
    icon: icon, itemWidth: 32, itemHeight: 3.5, selectedMode: false, z: 30,
    textStyle: { fontSize: 14, color: '#111', fontFamily: FONT }
  });
});

const legendBoxes = [57, 585].map(y => ({
  type: 'rect', z: 25, silent: true,
  shape: { x: 1572, y: y, width: 497, height: 43, r: 4 },
  style: { fill: 'rgba(255,255,255,0.8)', stroke: '#cccccc', lineWidth: 1 }
}));
legendBoxes.push({
  type: 'rect', z: 25, silent: true,
  shape: { x: 100, y: 1114, width: 298, height: 94, r: 4 },
  style: { fill: 'rgba(255,255,255,0.8)', stroke: '#cccccc', lineWidth: 1 }
});

const chart = echarts.init(document.getElementById('chart'), null, { renderer: 'canvas' });
chart.setOption({
  animation: false,
  backgroundColor: '#ffffff',
  textStyle: { fontFamily: FONT },
  title: [
    { text: 'CARLOS ADAMES — Total Strikes Attempted R11 Under Full Fight (Event 16235)', left: 1085, top: 21,
      textAlign: 'center', padding: 0, textStyle: { fontSize: 19, fontWeight: 'normal', color: '#000', fontFamily: FONT } },
    { text: 'AUSTIN WILLIAMS — Total Strikes Attempted R11 Under Full Fight (Event 16235)', left: 1085, top: 549,
      textAlign: 'center', padding: 0, textStyle: { fontSize: 19, fontWeight: 'normal', color: '#000', fontFamily: FONT } }
  ],
  grid: grids,
  xAxis: xAxes,
  yAxis: yAxes,
  legend: legends,
  graphic: legendBoxes,
  series: probSeries(0, caSolid, caPred).concat(probSeries(1, awSolid, awPred), countSeries)
});
</script>
</body>
</html>
